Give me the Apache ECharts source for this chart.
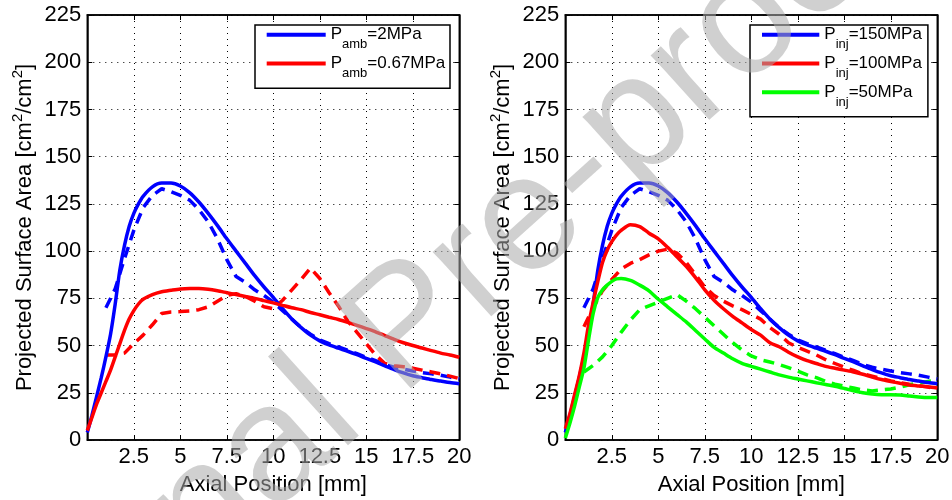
<!DOCTYPE html>
<html><head><meta charset="utf-8">
<script src="https://cdn.jsdelivr.net/npm/echarts@6.0.0/dist/echarts.min.js"></script>
<style>html,body{margin:0;padding:0;background:#fff}#c{width:952px;height:500px}</style>
</head><body><div id="c"></div><script>
// ---------- data ----------
const xSolid = [0,0.25,0.5,0.75,1,1.25,1.5,1.75,2,2.25,2.5,2.75,3,3.5,4,4.5,5,5.5,6,6.5,7,7.5,8,8.5,9,9.5,10,10.5,11,11.5,12,12.5,13,13.5,14,14.5,15,15.5,16,16.5,17,17.5,18,18.5,19,19.5,20];
const xDash = [1,1.5,2,2.5,3,3.5,4,4.5,5,5.5,6,6.5,7,7.5,8,8.5,9,9.5,10,10.5,11,11.5,12,12.5,13,13.5,14,14.5,15,15.5,16,16.5,17,17.5,18,18.5,19,19.5,20];
const xTicks = [2.5,5,7.5,10,12.5,15,17.5,20];

// baseline case (P_amb=2MPa, P_inj=150MPa)
const blueSolid = [4,13,23,33,44,56,72,90,103,113,120,125,129,134,136,136,134.5,131,126,120,113.5,106.5,100,93.5,87,81,75.5,69.5,64,59.5,55.5,52.5,50.3,48.6,47,45.2,43.2,41.3,39.3,37.3,35.5,34,33,32,31.2,30.4,29.8];
const blueDash = [70,80,96,111,123,129.5,133,131.5,129.5,127,122,115.5,106.5,95.5,86.5,83.5,79.5,76.5,73,68.5,64,59.5,56,53,51,49.3,47.5,45.7,43.8,42,40,38.5,37.5,36.5,35.7,35,34.3,33.3,32.3];
// P_amb=0.67MPa
const ambLowSolid = [5,12,19,25,31,37,44,51,58,64,68.5,72,74.5,77,78.5,79.3,80,80.2,80.2,79.8,79,78,77,76,75,73.8,72.6,71.3,70,69,67.5,66.3,65,63.8,62.3,60.7,59,57.3,55.3,53.3,51.5,50,48.7,47.3,46,45,43.8];
const ambLowDash = [45,45,46,51,55.5,61,67,67.8,68,68.3,69,70.5,73.5,76.5,77.5,76,73.5,70.5,69.5,74,79.5,85,91,85.5,78,71,63,57,51,45,40.5,39.3,38.8,38,37,36,35,33.8,32.5];
// P_inj=100MPa
const inj100Solid = [6,14,24,34,46,61,73,84,94,100.5,105,108.5,111,114,113,109.5,106.5,102,97,92,86,79.5,74,69.5,65.5,62,58.5,55.5,51.5,49.4,46.5,44,42,40.5,39,38,37,36,34.8,33.3,32,31,30,29.1,28.6,28.2,27.5];
const inj100Dash = [60,70,79,85,90.5,93.5,95.5,98,100,101,99,94,87.5,81,76.5,73.5,71,69,66.5,64,59.5,56,51.5,49,47,45,42.5,40.5,38.5,36.8,35,33.8,32.5,31.3,30.3,29.5,28.8,28,27.3];
// P_inj=50MPa
const inj50Solid = [1,9,18,28,38,53,67,75.5,79.5,82,84,85.3,85.5,84.5,82,79,74.5,70.5,66.5,62.5,58,53.5,49,46,43,40.6,39,37.5,36,34.5,33.3,32.3,31.3,30.3,29.4,28.5,27.3,26,25,24.3,24,24,23.8,23.3,22.8,22.5,22.5];
const inj50Dash = [36,39.5,44,50,57,63.5,69,71,73,75,77,73.5,69.5,65,60.5,56,51.5,47.6,44.5,42.5,41.3,40,38.3,36.5,34.5,33,31,29.5,28.5,27.5,26.5,26,26.5,27,28,29.2,30.2,31,31.7];

const leftNames = ['P_amb=2MPa','P_amb=0.67MPa'];
const rightNames = ['P_inj=150MPa','P_inj=100MPa','P_inj=50MPa'];
const xName = 'Axial Position [mm]';
const yName = '{a|Projected Surface Area [cm}{s|2}{a|/cm}{s|2}{a|]}';
const watermark = 'Journal Pre-proof';

// ---------- chart ----------
const FONT = '"Liberation Sans", Arial, Helvetica, sans-serif';
const BLUE = '#0000ff', RED = '#ff0000', GREEN = '#00ff00';
const pairs = (xs, ys) => xs.map((x, i) => [x, ys[i]]);

function xAxes(g) {
  return [{
    gridIndex: g, type: 'value', min: 0, max: 20, interval: 2.5,
    axisLine: {show: true, onZero: false, lineStyle: {color: '#000', width: 1.5}},
    axisTick: {show: true, inside: true, length: 5, lineStyle: {color: '#000', width: 1}},
    axisLabel: {show: true, fontSize: 22, color: '#000', fontFamily: FONT, margin: 6,
      formatter: v => (xTicks.indexOf(v) >= 0 ? String(v) : '')},
    splitLine: {show: true, lineStyle: {color: '#000', width: 1, type: [1, 5]}},
    name: xName, nameLocation: 'middle', nameGap: 34,
    nameTextStyle: {fontSize: 22, color: '#000', fontFamily: FONT}
  }, {
    gridIndex: g, type: 'value', min: 0, max: 20, interval: 2.5, position: 'top',
    axisLine: {show: true, onZero: false, lineStyle: {color: '#000', width: 1.5}},
    axisTick: {show: true, inside: true, length: 5, lineStyle: {color: '#000', width: 1}},
    axisLabel: {show: false}, splitLine: {show: false}
  }];
}
function yAxes(g) {
  return [{
    gridIndex: g, type: 'value', min: 0, max: 225, interval: 25,
    axisLine: {show: true, onZero: false, lineStyle: {color: '#000', width: 1.5}},
    axisTick: {show: true, inside: true, length: 5, lineStyle: {color: '#000', width: 1}},
    axisLabel: {show: true, fontSize: 22, color: '#000', fontFamily: FONT, margin: 6},
    splitLine: {show: true, lineStyle: {color: '#000', width: 1, type: [1, 5]}},
    name: yName, nameLocation: 'middle', nameGap: 51, nameRotate: 90,
    nameTextStyle: {fontSize: 22, color: '#000', fontFamily: FONT, rich: {
      a: {fontSize: 22, lineHeight: 26, color: '#000', fontFamily: FONT, verticalAlign: 'bottom'},
      s: {fontSize: 15, lineHeight: 15, color: '#000', fontFamily: FONT, verticalAlign: 'top'}
    }}
  }, {
    gridIndex: g, type: 'value', min: 0, max: 225, interval: 25, position: 'right',
    axisLine: {show: true, onZero: false, lineStyle: {color: '#000', width: 1.5}},
    axisTick: {show: true, inside: true, length: 5, lineStyle: {color: '#000', width: 1}},
    axisLabel: {show: false}, splitLine: {show: false}
  }];
}
function line(name, g, xs, ys, color, dashed) {
  return {
    name, type: 'line', xAxisIndex: g * 2, yAxisIndex: g * 2,
    data: pairs(xs, ys), symbol: 'none', showSymbol: false,
    smooth: dashed ? false : 0.25, clip: true,
    lineStyle: {color, width: 3.5, type: dashed ? [11, 7] : 'solid'},
    itemStyle: {color}, emphasis: {disabled: true}, z: dashed ? 3 : 4
  };
}
const rich = {
  p: {fontSize: 17, lineHeight: 17, color: '#000', fontFamily: FONT, verticalAlign: 'top'},
  s: {fontSize: 13, lineHeight: 13, color: '#000', fontFamily: FONT, verticalAlign: 'top', padding: [12, 0, 6, 0]}
};
const legendFormatter = name => {
  const m = name.match(/^P_(\w+)=(.*)$/);
  return '{p|P}{s|' + m[1] + '}{p|=' + m[2] + '}';
};
function legend(names, left, top, itemWidth, padding, gap) {
  return {
    data: names, orient: 'vertical', left, top, padding, itemGap: gap,
    itemWidth, itemHeight: 4, icon: 'rect', selectedMode: false,
    borderColor: '#000', borderWidth: 1.5, backgroundColor: '#fff', borderRadius: 0,
    textStyle: {rich, fontFamily: FONT, color: '#000'}, formatter: legendFormatter
  };
}

const chart = echarts.init(document.getElementById('c'), null, {renderer: 'canvas'});
chart.setOption({
  animation: false,
  backgroundColor: '#fff',
  grid: [
    {left: 87.3, right: 492.7, top: 15, bottom: 60, show: true, borderColor: '#000', borderWidth: 1.5, containLabel: false, outerBoundsMode: 'none'},
    {left: 565.3, right: 14.7, top: 15, bottom: 60, show: true, borderColor: '#000', borderWidth: 1.5, containLabel: false, outerBoundsMode: 'none'}
  ],
  xAxis: xAxes(0).concat(xAxes(1)),
  yAxis: yAxes(0).concat(yAxes(1)),
  legend: [
    legend(leftNames, 255, 25, 59, [1.3, 4.7, 2.3, 11.7], -2.3),
    legend(rightNames, 750, 25, 57.3, [1.2, 6, 1.9, 12], -2.2)
  ],
  series: [
    line('P_amb=2MPa dashed', 0, xDash, blueDash, BLUE, true),
    line('P_amb=0.67MPa dashed', 0, xDash, ambLowDash, RED, true),
    line(leftNames[0], 0, xSolid, blueSolid, BLUE, false),
    line(leftNames[1], 0, xSolid, ambLowSolid, RED, false),
    line('P_inj=150MPa dashed', 1, xDash, blueDash, BLUE, true),
    line('P_inj=100MPa dashed', 1, xDash, inj100Dash, RED, true),
    line('P_inj=50MPa dashed', 1, xDash, inj50Dash, GREEN, true),
    line(rightNames[0], 1, xSolid, blueSolid, BLUE, false),
    line(rightNames[1], 1, xSolid, inj100Solid, RED, false),
    line(rightNames[2], 1, xSolid, inj50Solid, GREEN, false)
  ],
  graphic: [{
    type: 'text', x: 408, y: 330, rotation: 42 * Math.PI / 180, z: 100, silent: true,
    style: {text: watermark, font: '165px ' + FONT, fill: 'rgba(170,170,170,0.55)',
      align: 'center', verticalAlign: 'middle', textAlign: 'center', textVerticalAlign: 'middle'}
  }]
});
</script></body></html>
